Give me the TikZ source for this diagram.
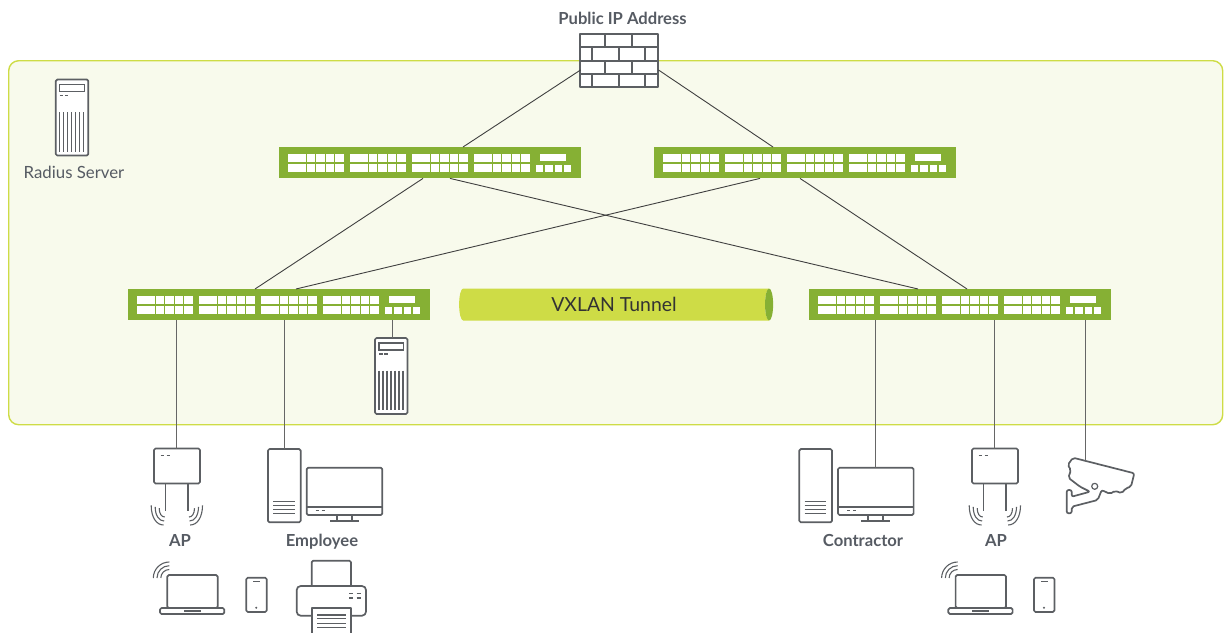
\documentclass[tikz,border=0pt]{standalone}
\usepackage{fontspec}
\setmainfont{Lato}
\usetikzlibrary{calc,positioning,shapes.geometric}
\definecolor{panelfill}{HTML}{F8FAEC}
\definecolor{limegreen}{HTML}{CEDC46}
\definecolor{switchgreen}{HTML}{86B034}
\definecolor{icongray}{HTML}{5C5F63}
\definecolor{labelgray}{HTML}{565B63}
\tikzset{
  icon/.style={draw=icongray,line width=1.7pt,line join=round},
  thin icon/.style={draw=icongray,line width=1.1pt},
  box/.style={icon,fill=white,rounded corners=1.5pt},
  link/.style={draw=black!75,line width=0.9pt},
  droplink/.style={draw=black!60,line width=0.9pt},
  devlabel/.style={text=labelgray,anchor=base,font=\fontsize{16.6}{18}\selectfont\bfseries},
  pics/switch/.style={code={
    \node[fill=switchgreen,minimum width=302pt,minimum height=31pt,inner sep=0pt,anchor=north west] (-box) at (0,0) {};
    \foreach \g in {9,71,133,195}
      \foreach \p in {0,...,5}
        \foreach \r in {7,17}
          \fill[white] (\g+\p*9.4,\r) rectangle +(8.6,8);
    \fill[white] (261,7) rectangle (287,14);
    \foreach \p in {257,266.3,275.7,285}
      \fill[white] (\p,18) rectangle +(7.2,7);
  }},
  pics/server/.style={code={
    \draw[box] (0,0) rectangle (32.5,76);
    \draw[thin icon] (4,5) rectangle (28.5,12);
    \foreach \x in {4,9}
      \draw[thin icon] (\x,16) -- +(3.5,0);
    \foreach \x in {4,8,...,28}
      \draw[thin icon] (\x,32.5) -- (\x,72);
    \coordinate (-top) at (17,0);
  }},
  pics/firewall/.style={code={
    \draw[icon,fill=white,line width=2pt] (0,0) rectangle (78,53.3);
    \foreach \y in {13.3,26.7,40}
      \draw[icon,line width=2pt] (0,\y) -- (78,\y);
    \foreach \y in {0,26.7} {
      \draw[icon,line width=2pt] (25.7,\y) -- +(0,13.3);
      \draw[icon,line width=2pt] (52.4,\y) -- +(0,13.3);
    }
    \foreach \y in {13.3,40} {
      \draw[icon,line width=2pt] (12.4,\y) -- +(0,13.3);
      \draw[icon,line width=2pt] (39,\y) -- +(0,13.3);
      \draw[icon,line width=2pt] (65.7,\y) -- +(0,13.3);
    }
    \coordinate (-west) at (1,36);
    \coordinate (-east) at (79,36);
  }},
  pics/waves/.style={code={
    \foreach \r in {6.5,10.5,14.5}
      \draw[thin icon] (-\r,-0.35*\r) .. controls (-\r,0.45*\r) and (-0.65*\r,\r) .. (-0.15*\r,\r);
  }},
  pics/accesspoint/.style={code={
    \draw[box] (0,0) rectangle (46,35);
    \foreach \x in {6.7,12.7}
      \draw[thin icon] (\x,7) -- +(3.6,0);
    \draw[thin icon] (11.7,35) -- (11.7,62);
    \draw[thin icon] (34,35) -- (34,62);
    \pic at (11.7,62) {waves};
    \pic[xscale=-1] at (34,62) {waves};
    \coordinate (-top) at (22,0);
  }},
  pics/tower/.style={code={
    \draw[box] (0,0) rectangle (32.7,73.3);
    \foreach \y in {52.7,56.7,60.3,64.3}
      \draw[thin icon] (5.3,\y) -- (27,\y);
    \coordinate (-top) at (16,0);
  }},
  pics/monitor/.style={code={
    \draw[box] (0,0) rectangle (75.6,47.3);
    \draw[icon] (0,39.6) -- (75.6,39.6);
    \foreach \x in {9,15}
      \draw[thin icon] (\x,43) -- +(3.3,0);
    \draw[icon] (30,47.3) -- (30,53.3) (45,47.3) -- (45,53.3);
    \draw[icon] (23.3,53.5) -- (52.3,53.5);
    \coordinate (-top) at (37.3,0);
  }},
  pics/laptop/.style={code={
    \draw[box] (7.3,0) rectangle (57.7,33);
    \draw[box] (0,33) rectangle (64.3,39);
    \draw[icon] (24,36) -- (40.7,36);
    \foreach \r in {8.5,12.3,16}
      \draw[thin icon] (9.3-\r,3) .. controls (9.3-\r,3-0.55*\r) and (9.3-0.55*\r,3-\r) .. (9.3,3-\r);
  }},
  pics/phone/.style={code={
    \draw[box] (0,0) rectangle (20.4,34.3);
    \draw[thin icon] (7,4) -- (13.7,4);
    \fill[icongray] (10,30) circle (1.1pt);
  }},
  pics/printer/.style={code={
    \draw[box] (15,0) rectangle (54.3,26);
    \draw[box,rounded corners=4pt] (0,25.3) rectangle (69.3,55);
    \foreach \y in {33,37.3}
      \foreach \x in {52.6,60}
        \draw[thin icon] (\x,\y) -- +(4,0);
    \draw[box,rounded corners=0pt] (15,47.6) -- (54.3,47.6) -- (54.3,73) -- (15,73) -- cycle;
    \foreach \y in {54.3,57.6,62.6,66.6}
      \draw[thin icon] (20.6,\y) -- (49,\y);
  }},
  pics/camera/.style={code={
    \draw[icon,fill=white,rounded corners=2pt] (6,0) -- (67.3,15.6) -- (64,29) -- (58.7,30.6) -- (54.7,35.6)
      -- (48,33) -- (43,36.3) -- (34.7,32.3) -- (30.7,42.3) -- (4.7,49) -- (4.7,55.6) -- (-0.3,55.6)
      -- (-0.3,32.3) -- (4.7,32.3) -- (4.7,39) -- (23,34) -- (13,29) -- (1.3,20) -- (4,12.3) -- (0.7,7.3) -- cycle;
    \draw[icon,line width=1.2pt] (27.7,28.6) circle (3pt);
    \coordinate (-top) at (18,3);
  }},
}

\begin{document}
\begin{tikzpicture}[x=1pt,y=-1pt]
\useasboundingbox (0,0) rectangle (1225,632);

% site panel
\node[draw=limegreen,fill=panelfill,line width=1.4pt,rounded corners=10pt,minimum width=1214pt,minimum height=364pt,anchor=north west] (site) at (8,60) {};

% switches
\pic (sw1) at (279,147) {switch};
\pic (sw2) at (654,147) {switch};
\pic (sw3) at (128,289) {switch};
\pic (sw4) at (809,289) {switch};

% tunnel
\node[cylinder,shape aspect=0.56,minimum width=32pt,minimum height=314pt,inner sep=0pt,cylinder uses custom fill,
  cylinder body fill=limegreen,cylinder end fill=switchgreen,font=\fontsize{19.4}{24}\selectfont,text=black!80] (tunnel) at (614,304.5) {VXLAN Tunnel};

% devices
\pic (fw) at (579.5,34) {firewall};
\pic (radius) at (55.8,79.5) {server};
\pic (srv) at (375,338) {server};
\pic (ap1) at (154,448.5) {accesspoint};
\pic (ap2) at (972,448.5) {accesspoint};
\pic (pc1) at (268,449) {tower};
\pic (mon1) at (306.7,467.7) {monitor};
\pic (pc2) at (799.3,449) {tower};
\pic (mon2) at (838,467.7) {monitor};
\pic (cam) at (1067,457.7) {camera};
\pic (lap1) at (160,575) {laptop};
\pic (lap2) at (948.3,575) {laptop};
\pic (tel1) at (246.3,577.7) {phone};
\pic (tel2) at (1034,577.7) {phone};
\pic (prn) at (296.7,560.7) {printer};

% labels
\node[devlabel] (pubip) at (622.5,24) {Public IP Address};
\node[text=labelgray,anchor=base,font=\fontsize{16.8}{18}\selectfont] (radlab) at (74,178) {Radius Server};
\node[devlabel] (aplab1) at (180,546) {AP};
\node[devlabel] (emplab) at (322,546) {Employee};
\node[devlabel] (conlab) at (863,546) {Contractor};
\node[devlabel] (aplab2) at (996,546) {AP};

% uplinks
\draw[link] (fw-west) -- ($(sw1-box.north west)+(184,0)$);
\draw[link] (fw-east) -- ($(sw2-box.north west)+(119,0)$);
\draw[link] ($(sw1-box.south west)+(144,0)$) -- ($(sw3-box.north west)+(127,0)$);
\draw[link] ($(sw1-box.south west)+(171,0)$) -- ($(sw4-box.north west)+(109,0)$);
\draw[link] ($(sw2-box.south west)+(106,0)$) -- ($(sw3-box.north west)+(168,0)$);
\draw[link] ($(sw2-box.south west)+(146,0)$) -- ($(sw4-box.north west)+(158,0)$);

% drops
\draw[droplink] (ap1-top) -- (ap1-top |- sw3-box.south);
\draw[droplink] (pc1-top) -- (pc1-top |- sw3-box.south);
\draw[droplink] (srv-top) -- (srv-top |- sw3-box.south);
\draw[droplink] (mon2-top) -- (mon2-top |- sw4-box.south);
\draw[droplink] (ap2-top) -- (ap2-top |- sw4-box.south);
\draw[droplink] (cam-top) -- (cam-top |- sw4-box.south);

\end{tikzpicture}
\end{document}
